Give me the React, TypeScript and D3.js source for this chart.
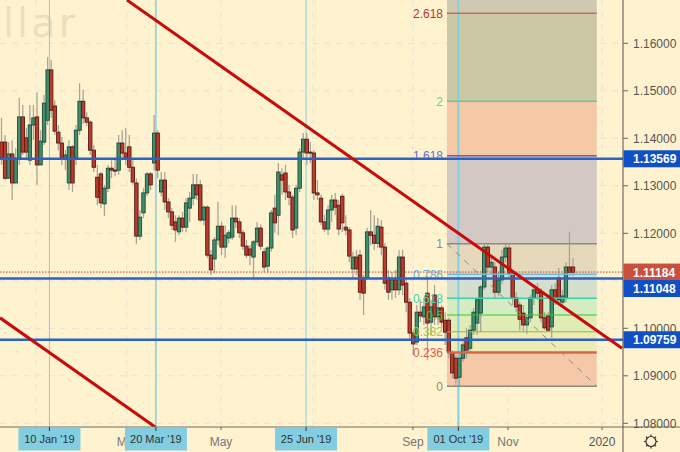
import React from "react";
import * as d3 from "d3";

const opens = [11392,11392,11316,11367,11306,11358,11445,11401,11354,11428,11445,11344,11392,11438,11544,11468,11413,11390,11360,11306,11382,11360,11417,11478,11443,11434,11375,11318,11325,11262,
11295,11337,11333,11333,11390,11369,11382,11339,11306,11194,11243,11285,11325,11348,11411,11287,11312,11266,11245,11224,
11203,11232,11213,11253,11274,11302,11302,11228,11255,11154,11146,11186,11215,11171,11190,11192,11232,11224,11201,11173,
11167,11150,11182,11211,11161,11131,11169,11253,11238,11323,11327,11287,11276,11211,11295,11371,11398,11371,11369,11285,
11274,11224,11209,11249,11270,11259,11278,11213,11207,11125,11150,11154,11106,11106,11203,11196,11179,11213,11171,11106,
11081,11102,11081,11150,11095,11055,10990,10971,11034,11024,11074,11013,11070,11024,11043,11017,11017,10948,10937,10897,
10937,10980,10958,10996,11011,11032,11087,11171,11129,11129,11076,11102,11150,11169,11116,11064,11049,11032,11007,11022,
11064,11081,11076,11022,11026,11003,11081,11106,11055,11064,11129,11129];
const closes = [11358,11316,11367,11306,11358,11445,11371,11371,11428,11443,11344,11394,11474,11544,11459,11415,11390,11360,11365,11382,
11306,11417,11478,11443,11434,11375,11339,11276,11264,11295,11337,11333,11331,11390,11369,11360,11339,11308,11194,11234,
11285,11325,11302,11411,11333,11312,11266,11245,11217,11207,11232,11213,11264,11274,11302,11281,11228,11255,11154,11123,
11186,11215,11171,11196,11201,11232,11224,11201,11173,11154,11154,11182,11211,11173,11129,11169,11243,11222,11329,11312,
11287,11276,11207,11295,11371,11398,11369,11369,11285,11281,11224,11209,11249,11270,11255,11209,11222,11207,11152,11150,
11125,11076,11074,11203,11196,11179,11215,11171,11095,11076,11102,11081,11150,11091,11055,10990,10967,11034,11026,11045,
11011,11045,11024,11043,11013,10992,10950,10906,10895,10937,10965,10954,10996,11034,11060,11087,11171,11129,11139,11076,
11102,11150,11169,11116,11064,11045,11019,11007,11022,11064,11081,11074,11022,11001,10996,11081,11064,11060,11068,11129,
11118,11118];
const highs = [11443,11407,11392,11396,11379,11485,11470,11422,11470,11470,11497,11417,11491,11571,11565,11480,11428,11403,11375,11396,
11386,11428,11516,11502,11455,11438,11386,11344,11329,11302,11344,11354,11358,11407,11417,11422,11407,11354,11316,11249,
11295,11329,11329,11449,11417,11329,11329,11274,11253,11238,11238,11245,11274,11287,11325,11325,11312,11259,11259,11165,
11192,11266,11224,11217,11207,11259,11259,11232,11207,11186,11175,11186,11224,11219,11169,11173,11249,11281,11348,11337,
11344,11302,11281,11302,11379,11411,11411,11392,11375,11312,11281,11238,11259,11281,11285,11270,11283,11238,11213,11161,
11165,11165,11112,11211,11249,11238,11232,11228,11179,11123,11118,11123,11165,11165,11106,11064,10996,11049,11060,11064,
11110,11060,11091,11060,11049,11034,11022,10954,10944,10950,10975,11001,11007,11043,11064,11091,11177,11177,11154,11139,
11118,11165,11179,11179,11123,11076,11055,11049,11028,11070,11091,11095,11085,11034,11034,11091,11095,11127,11081,11139,
11203,11148];
const lows = [11344,11312,11344,11270,11323,11344,11365,11354,11344,11396,11302,11344,11386,11428,11443,11407,11375,11344,11333,11291,
11287,11344,11407,11430,11426,11365,11329,11259,11253,11236,11287,11316,11320,11323,11354,11344,11329,11302,11177,11186,
11232,11278,11291,11333,11316,11278,11249,11232,11207,11182,11196,11203,11203,11224,11259,11270,11224,11217,11148,11112,
11116,11175,11154,11148,11179,11186,11211,11190,11165,11148,11133,11106,11175,11165,11118,11118,11161,11201,11196,11281,
11270,11259,11190,11196,11287,11354,11344,11348,11270,11270,11217,11203,11196,11224,11238,11196,11203,11196,11139,11106,
11112,11060,11028,11102,11175,11165,11169,11154,11081,11060,11060,11064,11070,11070,11034,10975,10944,10965,11013,11007,
10933,10986,11007,11007,11001,10965,10937,10895,10881,10878,10929,10937,10950,10986,10986,10992,11081,11118,11112,11064,
11068,11093,11139,11102,11049,11034,10996,10992,10988,11013,11049,11060,11013,10996,10992,10980,11049,11053,11049,11055,
11110,11110];

const priceTicks = [1.17, 1.16, 1.15, 1.14, 1.13, 1.12, 1.11, 1.1, 1.09, 1.08];
const horizontalLevels = [1.13569, 1.11048, 1.09759];
const lastPrice = 1.11184;
const priceTags = [
  { price: 1.13569, kind: "blue", shift: 0 },
  { price: 1.11184, kind: "red", shift: 0 },
  { price: 1.11048, kind: "blue", shift: 10 },
  { price: 1.09759, kind: "blue", shift: 0 },
];
const gridSlots = [9.72, 35.35, 61.83, 87.75, 115.9, 142.7, 169.2];
const timeLabels = [
  { slot: 35.35, text: "Mar" },
  { slot: 61.83, text: "May" },
  { slot: 115.9, text: "Sep" },
  { slot: 142.7, text: "Nov" },
  { slot: 169.2, text: "2020" },
];
const markers = [
  { slot: 13.5, text: "10 Jan '19", w: 1 },
  { slot: 43.5, text: "20 Mar '19", w: 1.5 },
  { slot: 85.8, text: "25 Jun '19", w: 1 },
  { slot: 128.7, text: "01 Oct '19", w: 2 },
];
const trendLines = [
  { a: [35.35, 1.1691], b: [174.8, 1.0958] },
  { a: [-0.42, 1.1022], b: [43.3, 1.0792] },
];
const fibZero = 1.0878;
const fibOne = 1.1178;
const fibStartSlot = 125.5;
const fibEndSlot = 167.7;
const fibLevels = [
  { r: 0, line: "#8f8a80", text: "#8f8a80", fill: "#f5c9a8", lw: 1.5 },
  { r: 0.236, line: "#d2684e", text: "#e05a50", fill: "#eeebb5", lw: 2.5 },
  { r: 0.382, line: "#93b83a", text: "#a8c83a", fill: "#e0ecb5", lw: 1 },
  { r: 0.5, line: "#2ec82e", text: "#4cbf2a", fill: "#d5ecc3", lw: 1 },
  { r: 0.618, line: "#3fcfa5", text: "#3fd0a5", fill: "#d4e0cd", lw: 1.5 },
  { r: 0.786, line: "#6cc0dc", text: "#63b2e0", fill: "#e6d9bb", lw: 1.5 },
  { r: 1, line: "#8f8a80", text: "#8f8a80", fill: "#d4c8c5", lw: 1.5 },
  { r: 1.618, line: "#6a5fb8", text: "#6070cc", fill: "#f5c9a6", lw: 1.5 },
  { r: 2, line: "#5fc9a0", text: "#5fd0a0", fill: "#cbc9a5", lw: 1.5 },
  { r: 2.618, line: "#c03a3a", text: "#b83232", fill: "#cfc9b2", lw: 1 },
];

const W = 680;
const H = 452;
const AX = 623;
const AY = 427;
const FONT = "'Liberation Sans', Arial, sans-serif";

const x = d3.scaleLinear().domain([0, 161]).range([1.5, 573]);
const y = d3.scaleLinear().domain([1.16, 1.08]).range([43.3, 423.3]);
const fibPrice = (r: number) => fibZero + r * (fibOne - fibZero);
const line = d3.line<number[]>().x((d) => x(d[0])).y((d) => y(d[1]));

function Gear({ cx, cy }: { cx: number; cy: number }) {
  const spokes = d3.range(8).map((i) => (i * Math.PI) / 4);
  return (
    <g stroke="#333" fill="none" strokeWidth={1.2}>
      <circle cx={cx} cy={cy} r={5} />
      {spokes.map((a, i) => (
        <line key={i} x1={cx + 5 * Math.cos(a)} y1={cy + 5 * Math.sin(a)} x2={cx + 7 * Math.cos(a)} y2={cy + 7 * Math.sin(a)} />
      ))}
    </g>
  );
}

export default function App() {
  const fx0 = x(fibStartSlot);
  const fx1 = x(fibEndSlot);
  return (
    <svg width={W} height={H} style={{ position: "absolute", left: 0, top: 0, display: "block", background: "#fff2cf" }} fontFamily={FONT}>
      <text x={3} y={37} fontFamily="'DejaVu Sans', sans-serif" fontSize={40} letterSpacing={3} fill="#6b5a30" fillOpacity={0.14}>llar</text>

      {priceTicks.map((p) => (
        <line key={p} x1={0} x2={AX} y1={y(p)} y2={y(p)} stroke="#e6e3dc" strokeWidth={1} strokeDasharray="6 6" />
      ))}
      {gridSlots.map((s) => (
        <line key={s} x1={x(s)} x2={x(s)} y1={0} y2={AY} stroke="#e6e3dc" strokeWidth={1} strokeDasharray="6 6" />
      ))}

      {fibLevels.map((l, i) => {
        const top = i < fibLevels.length - 1 ? y(fibPrice(fibLevels[i + 1].r)) : 0;
        return <rect key={l.r} x={fx0} width={fx1 - fx0} y={top} height={y(fibPrice(l.r)) - top} fill={l.fill} />;
      })}

      {markers.map((m) => (
        <line key={m.slot} x1={x(m.slot)} x2={x(m.slot)} y1={0} y2={AY} stroke="#86cfe0" strokeWidth={m.w} />
      ))}

      {closes.map((c, i) => (
        <line key={i} x1={x(i)} x2={x(i)} y1={y(highs[i] / 10000)} y2={y(lows[i] / 10000)} stroke="#a8a598" strokeWidth={1.3} />
      ))}
      {closes.map((c, i) => {
        const up = c >= opens[i];
        const t = y(Math.max(c, opens[i]) / 10000);
        const b = y(Math.min(c, opens[i]) / 10000);
        return (
          <rect key={i} x={x(i) - 1.7} width={3.4} y={t} height={Math.max(1, b - t)}
            fill={up ? "#3f8f6c" : "#bb3b2c"} stroke={up ? "#1f4a38" : "#551a14"} strokeWidth={0.9} />
        );
      })}

      {fibLevels.map((l) => (
        <g key={l.r}>
          <line x1={fx0} x2={fx1} y1={y(fibPrice(l.r))} y2={y(fibPrice(l.r))} stroke={l.line} strokeWidth={l.lw} />
          <text x={443} y={y(fibPrice(l.r)) + 4.5} textAnchor="end" fontSize={12} fill={l.text}>{l.r}</text>
        </g>
      ))}
      <line x1={fx0} x2={fx1} y1={y(fibOne)} y2={y(fibZero)} stroke="#8f8a80" strokeWidth={1} strokeDasharray="6 6" />

      <line x1={0} x2={AX} y1={y(lastPrice)} y2={y(lastPrice)} stroke="#c8402c" strokeWidth={1} strokeDasharray="1.5 1.5" />
      {horizontalLevels.map((p) => (
        <line key={p} x1={0} x2={AX} y1={y(p)} y2={y(p)} stroke="#2b62c9" strokeWidth={2.4} />
      ))}
      {trendLines.map((t, i) => (
        <path key={i} d={line([t.a, t.b]) || ""} stroke="#c80a0a" strokeWidth={3} fill="none" />
      ))}

      <rect x={AX} y={0} width={W - AX} height={H} fill="#fff2cf" />
      <rect x={0} y={AY} width={W} height={H - AY} fill="#fff2cf" />
      <line x1={0} x2={W} y1={AY} y2={AY} stroke="#6f6d60" strokeWidth={1} />
      <line x1={AX} x2={AX} y1={0} y2={H} stroke="#55534a" strokeWidth={1} />

      {priceTicks.filter((p) => p !== 1.11).map((p) => (
        <g key={p}>
          <line x1={AX} x2={AX + 5} y1={y(p)} y2={y(p)} stroke="#666" />
          <text x={633} y={y(p) + 4.5} fontSize={12} fill="#555">{p.toFixed(5)}</text>
        </g>
      ))}
      {priceTags.map((t) => (
        <g key={t.price}>
          <rect x={AX + 0.5} y={y(t.price) + t.shift - 8.5} width={W - AX} height={17} fill={t.kind === "red" ? "#c9503e" : "#0f50c6"} />
          <text x={633} y={y(t.price) + t.shift + 4.5} fontSize={12} fontWeight={700} fill="#fff">{t.price.toFixed(5)}</text>
        </g>
      ))}

      {gridSlots.map((s) => (
        <line key={s} x1={x(s)} x2={x(s)} y1={AY} y2={AY + 3} stroke="#666" />
      ))}
      {timeLabels.map((t) => (
        <text key={t.text} x={x(t.slot)} y={446} textAnchor="middle" fontSize={12} fill={t.text === "2020" ? "#555" : "#777"}>{t.text}</text>
      ))}
      {markers.map((m) => (
        <g key={m.text}>
          <rect x={x(m.slot) - 31} y={AY + 0.5} width={62} height={23} fill="#82cde0" />
          <line x1={x(m.slot)} x2={x(m.slot)} y1={AY} y2={AY + 4} stroke="#333" />
          <text x={x(m.slot)} y={443} textAnchor="middle" fontSize={11} fill="#333">{m.text}</text>
        </g>
      ))}
      <Gear cx={651} cy={441.5} />
    </svg>
  );
}
